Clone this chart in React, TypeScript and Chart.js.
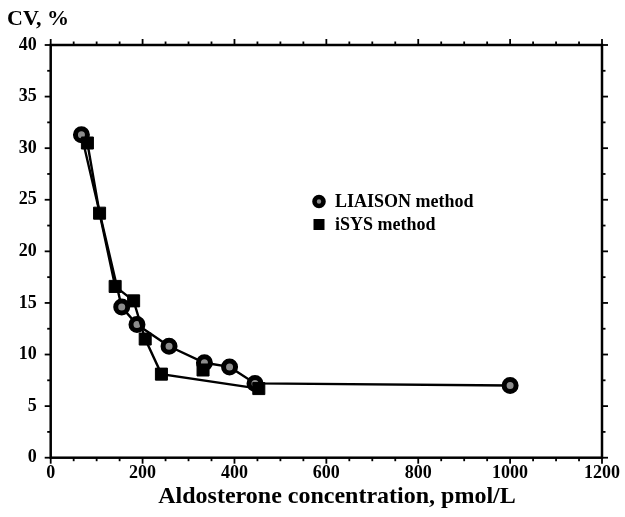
import React, { useEffect, useRef } from "react";
import { Chart, registerables } from "chart.js";

Chart.register(...registerables);

// ---- data ----
const liaisonConc = [66.9, 154.6, 187.8, 257.6, 334.6, 389.3, 444.7, 1000];
const liaisonCV = [31.3, 14.6, 12.9, 10.8, 9.2, 8.8, 7.2, 7.0];

const isysConc = [79.9, 106.4, 140.3, 180.5, 205.7, 241.0, 453.0];
const isysCV = [30.5, 23.7, 16.6, 15.2, 11.5, 8.1, 6.7];
// iSYS point that sits on its own (not joined by the line)
const isysLoneConc = [331.6];
const isysLoneCV = [8.5];

const xTicks = [0, 200, 400, 600, 800, 1000, 1200];
const yTicks = [0, 5, 10, 15, 20, 25, 30, 35, 40];
const xMinorStep = 50;
const yMinorStep = 2.5;

const seriesNames = ["LIAISON method", "iSYS method"];
const xTitle = "Aldosterone concentration, pmol/L";
const yTitle = "CV, %";

const FONT = "'Liberation Serif', 'Times New Roman', serif";

const framePlugin = {
  id: "frame",
  afterDraw(chart: any) {
    const { ctx, chartArea, scales } = chart;
    const { left, right, top, bottom } = chartArea;
    const xs = scales.x;
    const ys = scales.y;
    ctx.save();
    ctx.strokeStyle = "#000";
    ctx.lineWidth = 2.5;
    ctx.strokeRect(left, top, right - left, bottom - top);
    ctx.lineWidth = 1.8;
    const seg = (a: number, b: number, c: number, d: number) => {
      ctx.beginPath();
      ctx.moveTo(a, b);
      ctx.lineTo(c, d);
      ctx.stroke();
    };
    const xMax = xTicks[xTicks.length - 1];
    const yMax = yTicks[yTicks.length - 1];
    for (let v = xTicks[0]; v <= xMax + 1e-6; v += xMinorStep) {
      const px = xs.getPixelForValue(v);
      const major = xTicks.includes(v);
      const len = major ? 6 : 3.5;
      seg(px, bottom, px, bottom + len);
      seg(px, top, px, top - len);
    }
    for (let v = yTicks[0]; v <= yMax + 1e-6; v += yMinorStep) {
      const py = ys.getPixelForValue(v);
      const major = yTicks.includes(v);
      const len = major ? 6 : 3.5;
      seg(left, py, left - len, py);
      seg(right, py, right + len, py);
    }

    ctx.fillStyle = "#000";
    // y-axis title (top-left)
    ctx.font = `bold 22px ${FONT}`;
    ctx.textAlign = "left";
    ctx.textBaseline = "alphabetic";
    ctx.fillText(yTitle, 7, 25);

    // x-axis title
    ctx.font = `bold 24px ${FONT}`;
    ctx.textAlign = "center";
    ctx.textBaseline = "middle";
    ctx.fillText(xTitle, 337, 497);

    // legend
    const ds = chart.data.datasets;
    const lx = 319;
    const rows = [201.5, 224.5];
    ctx.textAlign = "left";
    ctx.font = `bold 18px ${FONT}`;
    ctx.beginPath();
    ctx.arc(lx, rows[0], 4.5, 0, Math.PI * 2);
    ctx.fillStyle = ds[0].pointBackgroundColor;
    ctx.fill();
    ctx.lineWidth = 4.6;
    ctx.strokeStyle = "#000";
    ctx.stroke();
    ctx.fillStyle = "#000";
    ctx.fillRect(lx - 5.5, rows[1] - 5.5, 11, 11);
    ctx.fillText(ds[0].label, 335, rows[0] + 1);
    ctx.fillText(ds[1].label, 335, rows[1] + 1);
    ctx.restore();
  },
};

export default function App() {
  const ref = useRef<HTMLCanvasElement>(null);

  useEffect(() => {
    document.body.style.margin = "0";
    const canvas = ref.current!;
    const liaisonData = liaisonConc.map((x, i) => ({ x, y: liaisonCV[i] }));
    const isysData: any[] = [
      ...isysLoneConc.map((x, i) => ({ x, y: isysLoneCV[i] })),
      { x: isysLoneConc[0], y: null },
      ...isysConc.map((x, i) => ({ x, y: isysCV[i] })),
    ];
    const tickFont = { family: FONT, size: 18, weight: "bold" as const };
    const chart = new Chart(canvas, {
      type: "scatter",
      data: {
        datasets: [
          {
            label: seriesNames[0],
            data: liaisonData,
            showLine: true,
            borderColor: "#000",
            borderWidth: 2.4,
            pointStyle: "circle",
            pointRadius: 6,
            pointBorderWidth: 5,
            pointBorderColor: "#000",
            pointBackgroundColor: "#8c8c8c",
            order: 2,
          },
          {
            label: seriesNames[1],
            data: isysData,
            showLine: true,
            spanGaps: false,
            borderColor: "#000",
            borderWidth: 2.4,
            pointStyle: "rect",
            pointRadius: 8.5,
            pointBorderWidth: 1,
            pointBorderColor: "#000",
            pointBackgroundColor: "#000",
            order: 1,
          },
        ] as any,
      },
      options: {
        responsive: false,
        animation: false,
        events: [],
        layout: { padding: { left: 0, right: 18.5, top: 45, bottom: 0 } },
        plugins: {
          legend: { display: false },
          tooltip: { enabled: false },
        },
        scales: {
          x: {
            type: "linear",
            min: xTicks[0],
            max: xTicks[xTicks.length - 1],
            afterBuildTicks: (s: any) => {
              s.ticks = xTicks.map((v) => ({ value: v }));
            },
            afterFit: (s: any) => {
              s.height = 59.3;
            },
            grid: { display: false, drawTicks: false },
            border: { display: false },
            ticks: {
              padding: 5,
              color: "#000",
              font: tickFont,
              callback: (v: any) => String(v),
              maxRotation: 0,
              autoSkip: false,
            },
          },
          y: {
            type: "linear",
            min: yTicks[0],
            max: yTicks[yTicks.length - 1],
            afterBuildTicks: (s: any) => {
              s.ticks = yTicks.map((v) => ({ value: v }));
            },
            afterFit: (s: any) => {
              s.width = 50.7;
            },
            grid: { display: false, drawTicks: false },
            border: { display: false },
            ticks: {
              padding: 14,
              color: "#000",
              font: tickFont,
              callback: (v: any) => String(v),
              autoSkip: false,
            },
          },
        },
      },
      plugins: [framePlugin],
    });
    return () => chart.destroy();
  }, []);

  return (
    <canvas
      ref={ref}
      width={625}
      height={517}
      style={{ display: "block", width: 625, height: 517 }}
    />
  );
}
